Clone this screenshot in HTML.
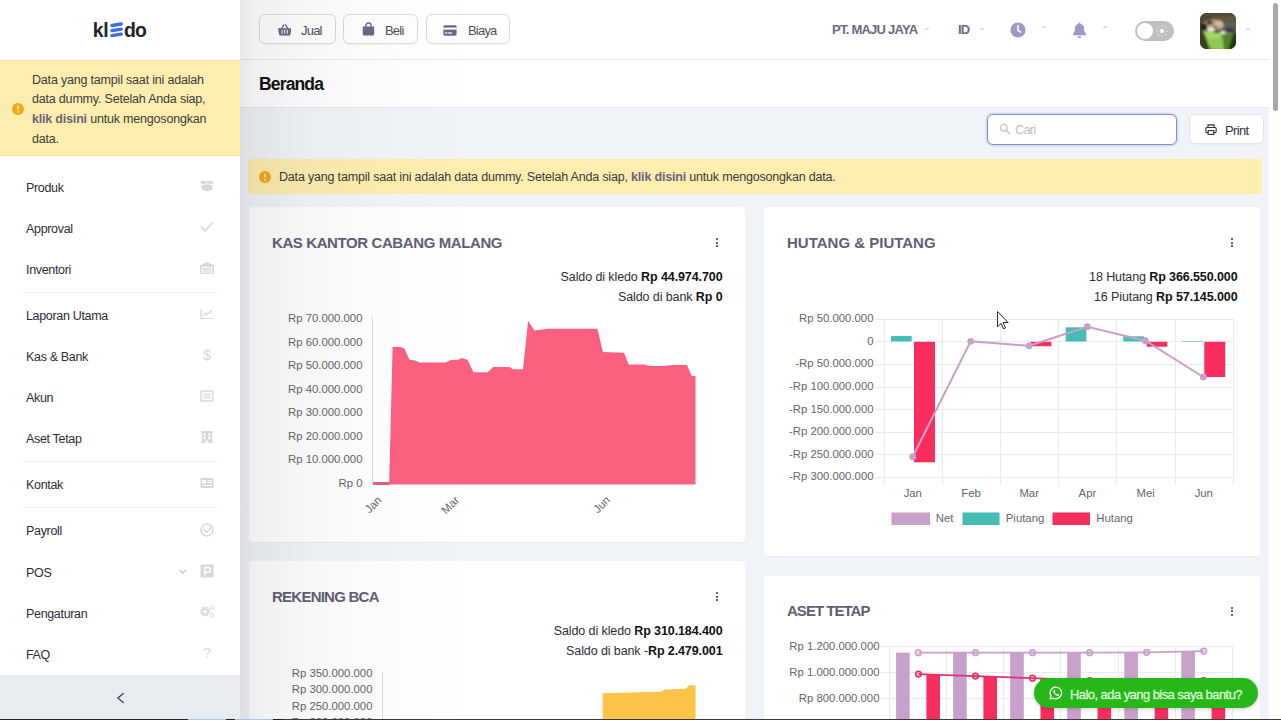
<!DOCTYPE html>
<html lang="id">
<head>
<meta charset="utf-8">
<title>Beranda - Kledo</title>
<style>
*{box-sizing:border-box;margin:0;padding:0}
html,body{width:1281px;height:720px;overflow:hidden;background:#fff}
body{font-family:"Liberation Sans",sans-serif;font-size:13px;color:#2b2b33;position:relative}
.abs{position:absolute}
/* ---------- sidebar ---------- */
#side{position:absolute;left:0;top:0;width:240px;height:720px;background:#fff;z-index:5}
#logo{position:absolute;left:0;top:0;width:240px;height:60px}
#salert{position:absolute;left:0;top:60px;width:240px;height:96px;background:#fdeeb0;border-top:1px solid #f9e7a0;border-bottom:1px solid #f9e7a0}
#salert p{position:absolute;left:32px;top:9.500px;width:200px;letter-spacing:-.19px;font-size:12.5px;line-height:19.7px;color:#3a3a3a}
#salert b{color:#6b6478}
.mi{position:absolute;left:26px;width:200px;height:20px;line-height:20px;letter-spacing:-.33px;font-size:12.5px;color:#2d2d35}
.sep{position:absolute;left:23px;width:195px;height:1px;background:#eef0f3}
.ico{position:absolute;left:199px;width:16px;height:16px}
#collapse{position:absolute;left:0;top:675px;width:240px;height:45px;background:#e8ecf0}
/* ---------- header ---------- */
#head{position:absolute;left:240px;top:0;width:1029px;height:60px;background:#fff;border-bottom:1px solid #ebebeb}
.hbtn{letter-spacing:-.8px;position:absolute;top:14px;height:30px;border:1px solid #d9dbe0;border-radius:6px;background:#fff;font-size:13px;color:#50505b;line-height:28px;box-shadow:0 1px 1px rgba(0,0,0,.04)}
.hbtn span{position:absolute;top:1.500px}
.htxt{letter-spacing:-.75px;white-space:nowrap;position:absolute;font-weight:bold;font-size:13px;color:#6b6a80;top:22px;line-height:16px}
.dash{position:absolute;width:4px;height:1.500px;background:#dddde3;border-radius:1px}
#title{position:absolute;left:240px;top:60px;width:1029px;height:48px;background:#fff;border-bottom:1px solid #e4e8ec;z-index:1}
#title h1{position:absolute;left:19px;top:13px;letter-spacing:-.85px;font-size:17.5px;line-height:22px;font-weight:bold;color:#111}
/* ---------- main ---------- */
#main{position:absolute;left:240px;top:107px;width:1029px;height:613px;background:#f0f4f9}
#search{position:absolute;left:747px;top:7px;width:190px;height:30.500px;border:1px solid #8092d2;border-radius:6px;background:#fff;box-shadow:0 0 0 1.500px rgba(90,110,200,.18)}
#search span{letter-spacing:-.9px;position:absolute;left:27px;top:7px;font-size:13px;line-height:15px;color:#bfbfbf}
#print{position:absolute;left:949px;top:7px;width:75px;height:30px;border:1px solid #e1e4e8;border-radius:6px;background:#fff;box-shadow:0 1px 1px rgba(0,0,0,.03)}
#print span{letter-spacing:-.65px;position:absolute;left:35px;top:7.500px;font-size:13px;line-height:15px;color:#33333b}
#malert{position:absolute;left:8px;top:51.500px;width:1014px;height:35px;background:#fdeeb0;border-radius:2px}
#malert p{position:absolute;left:31px;top:10px;letter-spacing:-.185px;font-size:12.5px;line-height:16px;color:#3a3a3a;white-space:nowrap}
#malert b{color:#6b6478}
.card{position:absolute;background:#fff;border-radius:4px;box-shadow:0 1px 1px rgba(0,0,0,.035)}
.card h2{position:absolute;left:23px;top:26.700px;font-size:15px;line-height:18px;font-weight:bold;color:#5f5f76;white-space:nowrap;letter-spacing:-.39px}
.sal{position:absolute;right:22.500px;letter-spacing:-.1px;font-size:12.5px;line-height:16px;color:#2d2d35;white-space:nowrap;text-align:right}
.sal b{color:#111}
.kebab{position:absolute;width:3px;height:11px}
.kebab i{position:absolute;left:0;width:2px;height:2px;background:#333;border-radius:1px}
svg text{font-family:"Liberation Sans",sans-serif}
#vign{position:absolute;left:240px;top:0;width:300px;height:720px;pointer-events:none;z-index:4;background:linear-gradient(to right,rgba(0,0,0,.085) 0,rgba(0,0,0,.06) 6%,rgba(0,0,0,.03) 22%,rgba(0,0,0,.012) 48%,rgba(0,0,0,0) 80%)}
#scroll{position:absolute;left:1269px;top:0;width:12px;height:720px;background:#fff}
#scroll i{position:absolute;left:4px;top:3px;width:5px;height:108px;border-radius:3px;background:#a9a9a9}
#wa{position:absolute;left:1034px;top:678px;width:224px;height:30px;border-radius:15px;background:#25b818;z-index:6;box-shadow:0 1px 4px rgba(0,0,0,.2)}
#wa span{-webkit-text-stroke:.3px #def7d8;letter-spacing:-.56px;position:absolute;left:36px;top:8.700px;font-size:13px;line-height:16px;color:#def7d8;white-space:nowrap}
#botline{position:absolute;left:0;top:719px;width:1281px;height:1px;background:#222;z-index:9}
</style>
</head>
<body>
<div id="side">
  <div id="logo"><svg width="240" height="60" viewBox="0 0 240 60">
<text x="92.800" y="37" font-size="19.400" font-weight="bold" fill="#23232b" letter-spacing="-.3">kl</text>
<g stroke="#3b71e3" stroke-width="3.300" stroke-linecap="round"><path d="M111.900 25.500 121.300 24"/><path d="M111.900 30.600 121.300 29.100"/><path d="M111.900 35.700 121.300 34.200"/></g>
<text x="123.900" y="37" font-size="19.400" font-weight="bold" fill="#23232b" letter-spacing="-.8">do</text>
</svg></div>
  <div id="salert"><svg class="abs" style="left:11px;top:41px" width="14" height="14" viewBox="0 0 14 14"><circle cx="7" cy="7" r="6" fill="#f0a91b"/><rect x="6.2" y="3.4" width="1.6" height="4.4" rx=".8" fill="#fdeeb0"/><circle cx="7" cy="9.9" r=".95" fill="#fdeeb0"/></svg><p>Data yang tampil saat ini adalah<br>data dummy. Setelah Anda siap,<br><b>klik disini</b> untuk mengosongkan<br>data.</p></div>
  <div id="menu">
<div class="mi" style="top:177.7px">Produk</div><svg class="ico" style="top:177.5px" viewBox="0 0 16 16"><path d="M1.2 4.2 3 2.4 8 3.4 13 2.4 14.8 4.200 13 6.2 8 5.2 3 6.2z" fill="#d8d8d8"/><path d="M2.600 7.200 8 6.200 13.4 7.200V11.600L8 13.200 2.600 11.600z" fill="#d8d8d8"/></svg>
<div class="mi" style="top:218.7px">Approval</div><svg class="ico" style="top:218.5px" viewBox="0 0 16 16"><path d="M2.500 8.200 6.200 11.800 13.600 3.800" fill="none" stroke="#d8d8d8" stroke-width="1.500" stroke-linecap="round" stroke-linejoin="round"/></svg>
<div class="mi" style="top:259.7px">Inventori</div><svg class="ico" style="top:259.5px" viewBox="0 0 16 16"><path d="M1 5.200 8 2 15 5.200V14h-1.600V6.800H2.600V14H1z" fill="#d8d8d8"/><path d="M3.600 8h8.800v1.400H3.600zM3.600 10.200h8.800v1.400H3.600zM3.600 12.400h8.800V14H3.600z" fill="#d8d8d8"/></svg>
<div class="mi" style="top:305.7px">Laporan Utama</div><svg class="ico" style="top:305.5px" viewBox="0 0 16 16"><path d="M2 3v9.500h12" fill="none" stroke="#d8d8d8" stroke-width="1.200"/><path d="M4 9.500 6.500 7 8.500 8.500 12 5" fill="none" stroke="#d8d8d8" stroke-width="1.200"/><path d="M10 4.600h2.600v2.600z" fill="#d8d8d8"/></svg>
<div class="mi" style="top:346.7px">Kas &amp; Bank</div><svg class="ico" style="top:346.5px" viewBox="0 0 16 16"><text x="8" y="13" font-size="14" text-anchor="middle" fill="#d8d8d8">$</text></svg>
<div class="mi" style="top:387.7px">Akun</div><svg class="ico" style="top:387.5px" viewBox="0 0 16 16"><rect x="2" y="3" width="12" height="10" rx="1" fill="none" stroke="#d8d8d8" stroke-width="1.400"/><path d="M4 6h8M4 8h8M4 10h8" stroke="#d8d8d8" stroke-width="1"/></svg>
<div class="mi" style="top:428.7px">Aset Tetap</div><svg class="ico" style="top:428.5px" viewBox="0 0 16 16"><path d="M2 2h12v1.200h-.8V13h.8v1H9.500v-2.500h-3V14H2v-1h.8V3.200H2z" fill="#d8d8d8"/><path d="M4.500 4.500h2.200v2.200H4.500zM9.300 4.500h2.200v2.200H9.300zM4.500 8h2.200v2.200H4.500zM9.300 8h2.200v2.200H9.300z" fill="#fff"/></svg>
<div class="mi" style="top:474.7px">Kontak</div><svg class="ico" style="top:475px" viewBox="0 0 16 16"><rect x="1.500" y="3" width="13" height="10" rx="1.200" fill="#d8d8d8"/><rect x="3.200" y="5" width="4" height="3.400" fill="#fff"/><path d="M8.500 5.600h4.500M8.500 7.600h4.500M3.200 10.400h9.800" stroke="#fff" stroke-width="1"/></svg>
<div class="mi" style="top:520.7px">Payroll</div><svg class="ico" style="top:521.500px" viewBox="0 0 16 16"><circle cx="8" cy="8" r="6" fill="none" stroke="#d8d8d8" stroke-width="1.500"/><path d="M5 7.600 7.600 10.200 12.200 5.400" fill="none" stroke="#d8d8d8" stroke-width="1.500" stroke-linecap="round" stroke-linejoin="round"/></svg>
<div class="mi" style="top:562.7px">POS</div><svg class="ico" style="top:563px" viewBox="0 0 16 16"><rect x="1.500" y="1.500" width="13" height="13" rx="1" fill="#d8d8d8"/><path d="M6 12.500V4.500h3a2.400 2.400 0 0 1 0 4.800H6" fill="none" stroke="#fff" stroke-width="1.500"/></svg>
<div class="mi" style="top:603.7px">Pengaturan</div><svg class="ico" style="top:603px" viewBox="0 0 16 16"><circle cx="6" cy="8.500" r="3.700" fill="none" stroke="#d8d8d8" stroke-width="2.600" stroke-dasharray="1.900 1"/><circle cx="6" cy="8.500" r="2.600" fill="none" stroke="#d8d8d8" stroke-width="1.400"/><circle cx="13" cy="4.800" r="1.700" fill="none" stroke="#d8d8d8" stroke-width="1.500" stroke-dasharray="1.100 .68"/><circle cx="13" cy="12.200" r="1.700" fill="none" stroke="#d8d8d8" stroke-width="1.500" stroke-dasharray="1.100 .68"/></svg>
<div class="mi" style="top:644.7px">FAQ</div><svg class="ico" style="top:644px" viewBox="0 0 16 16"><text x="8" y="13.500" font-size="15" text-anchor="middle" fill="#dcdcdc">?</text></svg>
<div class="sep" style="top:292px"></div>
<div class="sep" style="top:461px"></div>
<div class="sep" style="top:507px"></div>
<svg class="abs" style="left:178px;top:567px" width="10" height="10" viewBox="0 0 10 10"><path d="M1.800 3.200 4.800 6.200 7.800 3.200" fill="none" stroke="#bcbcbc" stroke-width="1.100" stroke-linecap="round" stroke-linejoin="round"/></svg>
</div>
  <div id="collapse"><svg class="abs" style="left:114px;top:16px" width="12" height="14" viewBox="0 0 12 14"><path d="M9.300 2.500 3.800 7 9.300 11.500" fill="none" stroke="#3b3b45" stroke-width="1.200" stroke-linecap="round" stroke-linejoin="round"/></svg></div>
</div>
<div id="head">
<div class="hbtn" style="left:19px;width:77px"><svg class="abs" style="left:17.500px;top:9px" width="13.500" height="11.700" viewBox="0 0 15 13"><path d="M.6 4.600h13.800a.6 .6 0 0 1 .6 .7l-1.300 6.600a1 1 0 0 1 -1 .8H2.300a1 1 0 0 1 -1 -.8L0 5.300a.6 .6 0 0 1 .6 -.7z" fill="#6b6785"/><path d="M4.200 5 6.400 1M10.800 5 8.600 1" stroke="#6b6785" stroke-width="1.500" stroke-linecap="round"/><path d="M4.600 6.800v3.600M7.500 6.800v3.600M10.400 6.800v3.600" stroke="#fff" stroke-width="1.100" stroke-linecap="round"/></svg><span style="left:41px">Jual</span></div>
<div class="hbtn" style="left:103px;width:75px"><svg class="abs" style="left:18px;top:7px" width="13" height="14" viewBox="0 0 13 14"><path d="M.8 4.400h11.400v7.600a1.600 1.600 0 0 1 -1.600 1.600H2.400A1.600 1.600 0 0 1 .8 12z" fill="#6b6785"/><path d="M3.900 5.800V3.600a2.600 2.600 0 0 1 5.200 0v2.200" fill="none" stroke="#6b6785" stroke-width="1.400"/></svg><span style="left:41px">Beli</span></div>
<div class="hbtn" style="left:186px;width:84px"><svg class="abs" style="left:16px;top:9.500px" width="14" height="11" viewBox="0 0 15 12"><rect x=".3" y=".3" width="14.400" height="11.400" rx="1.500" fill="#6b6785"/><rect x="0" y="2.800" width="15" height="2.200" fill="#fff"/><rect x="2" y="8" width="2.600" height="1.400" fill="#fff"/><rect x="5.600" y="8" width="4" height="1.400" fill="#fff"/></svg><span style="left:41px">Biaya</span></div>
<div class="htxt" style="left:592px">PT. MAJU JAYA</div><i class="dash" style="left:685px;top:28px"></i>
<div class="htxt" style="left:718px">ID</div><i class="dash" style="left:740px;top:28px"></i>
<svg class="abs" style="left:770px;top:22px" width="16" height="16" viewBox="0 0 16 16"><circle cx="8" cy="8" r="7.600" fill="#9d98c4"/><path d="M8 3.800V8.300l2.600 1.900" fill="none" stroke="#fff" stroke-width="1.600" stroke-linecap="round" stroke-linejoin="round"/></svg><i class="dash" style="left:802px;top:26px"></i>
<svg class="abs" style="left:832px;top:22px" width="15" height="17" viewBox="0 0 15 17"><path d="M7.500 .6a1 1 0 0 1 1 1v.5a4.600 4.600 0 0 1 3.600 4.500c0 2.900 .9 4.200 1.800 5.100a.9 .9 0 0 1 -.6 1.500H1.700a.9 .9 0 0 1 -.6 -1.500c.9 -.9 1.800 -2.200 1.800 -5.100A4.600 4.600 0 0 1 6.500 2.100V1.600a1 1 0 0 1 1 -1z" fill="#9d98c4"/><path d="M5.600 14.200h3.800a1.900 1.900 0 0 1 -3.800 0z" fill="#9d98c4"/></svg><i class="dash" style="left:863px;top:26px"></i>
<div class="abs" style="left:895px;top:21px;width:39px;height:20px;border-radius:10px;background:#bfbfbf"><i class="abs" style="left:2px;top:2px;width:16px;height:16px;border-radius:8px;background:#fff"></i><svg class="abs" style="left:20px;top:3px" width="14" height="14" viewBox="0 0 14 14"><circle cx="7" cy="7" r="2.300" fill="#f4f4f4"/><g stroke="#e2e2e2" stroke-width="1.300" stroke-linecap="round"><path d="M7 1.600v.6M7 11.800v.6M1.600 7h.6M11.800 7h.6M3.200 3.200l.4 .4M10.400 10.400l.4 .4M3.200 10.800l.4 -.4M10.400 3.600l.4 -.4"/></g></svg></div>
<svg class="abs" style="left:960px;top:13px" width="36" height="36" viewBox="0 0 36 36"><defs><clipPath id="av"><rect width="36" height="36" rx="6.500"/></clipPath><filter id="bl" x="-20%" y="-20%" width="140%" height="140%"><feGaussianBlur stdDeviation=".9"/></filter></defs><g clip-path="url(#av)"><rect width="36" height="36" fill="#514a34"/><g filter="url(#bl)"><rect x="-2" y="-2" width="40" height="9" fill="#4d4a33"/><rect x="12" y="3" width="24" height="6" fill="#5e563c"/><rect x="20" y="9" width="18" height="12" fill="#5c5d5e"/><ellipse cx="13.500" cy="12" rx="10.500" ry="5.600" fill="#b59a80"/><ellipse cx="19" cy="11" rx="4" ry="3" fill="#d3bba4"/><ellipse cx="15" cy="14.500" rx="2.500" ry="1.800" fill="#8a6a52"/><ellipse cx="9.500" cy="9.500" rx="3.200" ry="2" fill="#4d352b"/><ellipse cx="4" cy="14" rx="3.200" ry="3.500" fill="#1d1a17"/><ellipse cx="11" cy="16.500" rx="3.600" ry="2.200" fill="#eee7de"/><ellipse cx="30" cy="17" rx="5" ry="2.600" fill="#3c3d40"/><rect x="-2" y="18" width="10" height="20" fill="#39411f"/><rect x="27" y="20" width="11" height="18" fill="#22380f"/><path d="M3 17.500 33 20.500 27.500 37H10.500z" fill="#90c756"/><path d="M22 21 33 20.500 27.500 37H24z" fill="#4f8527"/><path d="M5 18.500 20 20 19 26 8 25z" fill="#a9d667"/><ellipse cx="23" cy="19.500" rx="2.600" ry="1.600" fill="#f1efe9"/><ellipse cx="16.500" cy="19" rx="2.400" ry="1.300" fill="#3b4a22"/></g></g></svg><i class="dash" style="left:1006px;top:28px"></i>
</div>
<div id="title"><h1>Beranda</h1></div>
<div id="main">
  <div id="search"><svg class="abs" style="left:11px;top:8px" width="12" height="12" viewBox="0 0 12 12"><circle cx="4.700" cy="4.700" r="3.300" fill="none" stroke="#c4c4c4" stroke-width="1.300"/><path d="M7.300 7.300 10.500 10.500" stroke="#c4c4c4" stroke-width="1.500" stroke-linecap="round"/></svg><span>Cari</span></div>
  <div id="print"><svg class="abs" style="left:15px;top:9px" width="12" height="11.200" viewBox="0 0 14 13"><path d="M3.500 4V1h7v3" fill="none" stroke="#33333b" stroke-width="1.300"/><rect x="1" y="4" width="12" height="6" rx="1.300" fill="none" stroke="#33333b" stroke-width="1.300"/><rect x="3.700" y="7.600" width="6.600" height="4.600" fill="#fff" stroke="#33333b" stroke-width="1.300"/></svg><span>Print</span></div>
  <div id="malert"><svg class="abs" style="left:10px;top:11px" width="14" height="14" viewBox="0 0 14 14"><circle cx="7" cy="7" r="6" fill="#f0a91b"/><rect x="6.200" y="3.400" width="1.600" height="4.400" rx=".8" fill="#fdeeb0"/><circle cx="7" cy="9.900" r=".95" fill="#fdeeb0"/></svg><p>Data yang tampil saat ini adalah data dummy. Setelah Anda siap, <b>klik disini</b> untuk mengosongkan data.</p></div>
  <div class="card" id="c1" style="left:9px;top:100px;width:496px;height:335px"><h2 style="letter-spacing:-.4px">KAS KANTOR CABANG MALANG</h2><div class="kebab" style="left:467px;top:31px"><i style="top:0"></i><i style="top:3.700px"></i><i style="top:7.400px"></i></div>
<div class="sal" style="top:61.800px">Saldo di kledo <b>Rp 44.974.700</b></div>
<div class="sal" style="top:82.300px">Saldo di bank <b>Rp 0</b></div>
<svg class="abs" style="left:0;top:0" width="496" height="335" viewBox="249 207 496 335" font-size="11.350" fill="#666">
<path d="M372.500 318V484" stroke="#dcdcdc" stroke-width="1" fill="none"/>
<path d="M373.0 483.0 L389.2 483.0 L392.6 347.0 L400.6 347.0 L404.4 348.6 L409.5 359.7 L415.0 360.4 L419.7 362.6 L445.3 362.6 L451.0 360.0 L458.0 359.7 L462.0 358.1 L467.7 360.0 L473.4 372.2 L487.5 372.2 L493.2 367.1 L509.6 367.1 L512.8 369.3 L523.0 369.3 L528.1 320.8 L534.5 330.4 L548.0 328.8 L597.4 328.8 L602.9 352.1 L624.0 352.7 L628.8 364.5 L644.4 364.5 L649.5 366.1 L663.0 366.1 L672.5 364.9 L687.0 364.9 L691.7 376.0 L695.5 376.0 L695.5 484.5 L373 484.5 Z" fill="#fb6080"/>
<path d="M373 483.500H389.500" stroke="#e0607f" stroke-width="3" fill="none"/>
<text x="362.500" y="322.3" text-anchor="end">Rp 70.000.000</text><text x="362.500" y="345.8" text-anchor="end">Rp 60.000.000</text><text x="362.500" y="369.3" text-anchor="end">Rp 50.000.000</text><text x="362.500" y="392.8" text-anchor="end">Rp 40.000.000</text><text x="362.500" y="416.3" text-anchor="end">Rp 30.000.000</text><text x="362.500" y="439.8" text-anchor="end">Rp 20.000.000</text><text x="362.500" y="463.3" text-anchor="end">Rp 10.000.000</text><text x="362.500" y="486.8" text-anchor="end">Rp 0</text>
<text transform="translate(379.5 498) rotate(-45)" text-anchor="end" y="4">Jan</text><text transform="translate(457.0 498) rotate(-45)" text-anchor="end" y="4">Mar</text><text transform="translate(608.0 498) rotate(-45)" text-anchor="end" y="4">Jun</text>
</svg></div>
  <div class="card" id="c2" style="left:524px;top:100px;width:496px;height:349px"><h2 style="letter-spacing:0">HUTANG &amp; PIUTANG</h2><div class="kebab" style="left:467px;top:31px"><i style="top:0"></i><i style="top:3.700px"></i><i style="top:7.400px"></i></div>
<div class="sal" style="top:61.800px">18 Hutang <b>Rp 366.550.000</b></div>
<div class="sal" style="top:82.300px">16 Piutang <b>Rp 57.145.000</b></div>
<svg class="abs" style="left:0;top:0" width="496" height="349" viewBox="764 207 496 349" font-size="11.350" fill="#666">
<path d="M875.500 319.5H1233 M875.500 341.5H1233 M875.500 364.5H1233 M875.500 387.5H1233 M875.500 409.5H1233 M875.500 432.5H1233 M875.500 454.5H1233 M875.500 477.5H1233 M884.5 319V485 M942.5 319V485 M1000.5 319V485 M1058.5 319V485 M1116.5 319V485 M1175.5 319V485 M1233.5 319V485 " stroke="#ebebeb" stroke-width="1" fill="none"/>
<rect x="891.0" y="336.0" width="20.7" height="5.5" fill="#45bcb6"/><rect x="914.0" y="341.8" width="21.0" height="120.5" fill="#fa2d5f"/><rect x="1030.5" y="341.8" width="20.9" height="4.4" fill="#fa2d5f"/><rect x="1065.7" y="327.3" width="20.6" height="14.2" fill="#45bcb6"/><rect x="1123.3" y="336.3" width="20.7" height="5.2" fill="#45bcb6"/><rect x="1146.7" y="341.8" width="20.6" height="4.9" fill="#fa2d5f"/><rect x="1182.0" y="340.9" width="20.6" height="0.6" fill="#45bcb6"/><rect x="1204.3" y="341.8" width="21.0" height="35.2" fill="#fa2d5f"/>
<path d="M912.7 456.7 L970.7 341.3 L1029.2 345.8 L1087.3 326.7 L1145.3 340.7 L1203.3 377" stroke="#c9a0c9" stroke-width="2" fill="none" stroke-linejoin="round"/>
<circle cx="912.7" cy="456.7" r="3.400" fill="#c9a0c9"/><circle cx="970.7" cy="341.3" r="3.400" fill="#c9a0c9"/><circle cx="1029.2" cy="345.8" r="3.400" fill="#c9a0c9"/><circle cx="1087.3" cy="326.7" r="3.400" fill="#c9a0c9"/><circle cx="1145.3" cy="340.7" r="3.400" fill="#c9a0c9"/><circle cx="1203.3" cy="377" r="3.400" fill="#c9a0c9"/>
<text x="873.500" y="322.2" text-anchor="end">Rp 50.000.000</text><text x="873.500" y="344.8" text-anchor="end">0</text><text x="873.500" y="367.4" text-anchor="end">-Rp 50.000.000</text><text x="873.500" y="390.0" text-anchor="end">-Rp 100.000.000</text><text x="873.500" y="412.6" text-anchor="end">-Rp 150.000.000</text><text x="873.500" y="435.2" text-anchor="end">-Rp 200.000.000</text><text x="873.500" y="457.8" text-anchor="end">-Rp 250.000.000</text><text x="873.500" y="480.4" text-anchor="end">-Rp 300.000.000</text>
<text x="912.8" y="497" text-anchor="middle">Jan</text><text x="971.0" y="497" text-anchor="middle">Feb</text><text x="1029.2" y="497" text-anchor="middle">Mar</text><text x="1087.4" y="497" text-anchor="middle">Apr</text><text x="1145.6" y="497" text-anchor="middle">Mei</text><text x="1203.8" y="497" text-anchor="middle">Jun</text>
<rect x="891.500" y="512.500" width="38.500" height="12.500" fill="#c9a0c9"/><text x="935.800" y="522.200">Net</text><rect x="962.500" y="512.500" width="37" height="12.500" fill="#45bcb6"/><text x="1005.800" y="522.200">Piutang</text><rect x="1052.500" y="512.500" width="37.500" height="12.500" fill="#fa2d5f"/><text x="1096.300" y="522.200">Hutang</text>
<path d="M997.500 311.500v15.300l3.600 -3.500 2.400 5.600 2 -.9 -2.400 -5.500h5z" fill="#fff" stroke="#111" stroke-width=".9" stroke-linejoin="round"/>
</svg></div>
  <div class="card" id="c3" style="left:9px;top:454px;width:496px;height:200px"><h2 style="letter-spacing:-.76px">REKENING BCA</h2><div class="kebab" style="left:467px;top:31px"><i style="top:0"></i><i style="top:3.700px"></i><i style="top:7.400px"></i></div>
<div class="sal" style="top:61.800px">Saldo di kledo <b>Rp 310.184.400</b></div>
<div class="sal" style="top:82.300px">Saldo di bank -<b>Rp 2.479.001</b></div>
<svg class="abs" style="left:0;top:0" width="496" height="200" viewBox="249 561 496 200" font-size="11.350" fill="#666">
<path d="M382.500 672V761" stroke="#dcdcdc" stroke-width="1" fill="none"/>
<path d="M602.600 761V693.200L640 692.300 661 691.800 664.500 689.400 686 688.800 688.600 685.500 695.500 685.300V761z" fill="#fcc549"/>
<text x="372.500" y="677.0" text-anchor="end">Rp 350.000.000</text><text x="372.500" y="693.2" text-anchor="end">Rp 300.000.000</text><text x="372.500" y="709.5" text-anchor="end">Rp 250.000.000</text><text x="372.500" y="725.8" text-anchor="end">Rp 200.000.000</text>
</svg></div>
  <div class="card" id="c4" style="left:524px;top:468.500px;width:496px;height:200px"><h2 style="letter-spacing:-.98px">ASET TETAP</h2><div class="kebab" style="left:467px;top:31px"><i style="top:0"></i><i style="top:3.700px"></i><i style="top:7.400px"></i></div>
<svg class="abs" style="left:0;top:-1px" width="496" height="200" viewBox="764 575 496 200" font-size="11.350" fill="#666">
<path d="M881 646.5H1232.500 M881 672.5H1232.500 M881 698.5H1232.500 M889.5 646V775 M946.5 646V775 M1003.5 646V775 M1060.5 646V775 M1118.5 646V775 M1175.5 646V775 M1232.5 646V775 " stroke="#ebebeb" stroke-width="1" fill="none"/>
<rect x="896.1" y="652.7" width="13.600" height="130" fill="#c9a0c9"/><rect x="926.4" y="674.4" width="13.600" height="130" fill="#fa2d5f"/><rect x="953.1" y="652.7" width="13.600" height="130" fill="#c9a0c9"/><rect x="983.4" y="676.4" width="13.600" height="130" fill="#fa2d5f"/><rect x="1010.2" y="652.7" width="13.600" height="130" fill="#c9a0c9"/><rect x="1040.5" y="678.5" width="13.600" height="130" fill="#fa2d5f"/><rect x="1067.2" y="652.7" width="13.600" height="130" fill="#c9a0c9"/><rect x="1097.5" y="680.9" width="13.600" height="130" fill="#fa2d5f"/><rect x="1124.3" y="652.3" width="13.600" height="130" fill="#c9a0c9"/><rect x="1154.6" y="682.2" width="13.600" height="130" fill="#fa2d5f"/><rect x="1181.3" y="651.1" width="13.600" height="130" fill="#c9a0c9"/><rect x="1211.6" y="680.9" width="13.600" height="130" fill="#fa2d5f"/>
<path d="M918.4 652.7 L975.5 652.7 L1032.5 652.7 L1089.6 652.7 L1146.6 652.3 L1203.7 651.1" stroke="#c9a0c9" stroke-width="1.800" fill="none"/><circle cx="918.4" cy="652.7" r="2.900" fill="#c9a0c9" fill-opacity=".35" stroke="#c9a0c9" stroke-width="1.500"/><circle cx="975.5" cy="652.7" r="2.900" fill="#c9a0c9" fill-opacity=".35" stroke="#c9a0c9" stroke-width="1.500"/><circle cx="1032.5" cy="652.7" r="2.900" fill="#c9a0c9" fill-opacity=".35" stroke="#c9a0c9" stroke-width="1.500"/><circle cx="1089.6" cy="652.7" r="2.900" fill="#c9a0c9" fill-opacity=".35" stroke="#c9a0c9" stroke-width="1.500"/><circle cx="1146.6" cy="652.3" r="2.900" fill="#c9a0c9" fill-opacity=".35" stroke="#c9a0c9" stroke-width="1.500"/><circle cx="1203.7" cy="651.1" r="2.900" fill="#c9a0c9" fill-opacity=".35" stroke="#c9a0c9" stroke-width="1.500"/>
<path d="M918.4 674.1 L975.5 676.1 L1032.5 678.2 L1089.6 680.6 L1146.6 681.9 L1203.7 680.6" stroke="#e3336f" stroke-width="1.800" fill="none"/><circle cx="918.4" cy="674.1" r="2.900" fill="#e3336f" fill-opacity=".35" stroke="#e3336f" stroke-width="1.500"/><circle cx="975.5" cy="676.1" r="2.900" fill="#e3336f" fill-opacity=".35" stroke="#e3336f" stroke-width="1.500"/><circle cx="1032.5" cy="678.2" r="2.900" fill="#e3336f" fill-opacity=".35" stroke="#e3336f" stroke-width="1.500"/><circle cx="1089.6" cy="680.6" r="2.900" fill="#e3336f" fill-opacity=".35" stroke="#e3336f" stroke-width="1.500"/><circle cx="1146.6" cy="681.9" r="2.900" fill="#e3336f" fill-opacity=".35" stroke="#e3336f" stroke-width="1.500"/><circle cx="1203.7" cy="680.6" r="2.900" fill="#e3336f" fill-opacity=".35" stroke="#e3336f" stroke-width="1.500"/>
<text x="879.500" y="649.7" text-anchor="end">Rp 1.200.000.000</text><text x="879.500" y="676.0" text-anchor="end">Rp 1.000.000.000</text><text x="879.500" y="702.4" text-anchor="end">Rp 800.000.000</text>
</svg></div>
</div>
<div id="vign"></div>
<div id="scroll"><i></i></div>
<div id="wa"><svg class="abs" style="left:15px;top:8px" width="14" height="14" viewBox="0 0 14 14"><path d="M7 1.100a5.800 5.800 0 0 0 -5 8.800L1.100 12.900l3.100 -.8A5.800 5.800 0 1 0 7 1.100z" fill="none" stroke="#fff" stroke-width="1.300" stroke-linejoin="round"/><path d="M4.900 4.300c.3 -.3 .7 -.3 .9 .1l.5 1c.1 .3 0 .5 -.2 .7l-.3 .3c.5 .9 1.100 1.500 2 2l.4 -.4c.2 -.2 .4 -.2 .7 -.1l1 .5c.3 .2 .4 .6 .1 .9 -.5 .6 -1.200 .8 -2 .5C6.400 9.200 5 7.800 4.400 6.300c-.3 -.8 -.1 -1.500 .5 -2z" fill="#fff"/></svg><span>Halo, ada yang bisa saya bantu?</span></div>
<div id="botline"><i class="abs" style="left:188px;top:0;width:38px;height:1px;background:#a7c6ea"></i><i class="abs" style="left:235px;top:0;width:38px;height:1px;background:#a7c6ea"></i><i class="abs" style="left:283px;top:0;width:998px;height:1px;background:#3a3a3a"></i></div>
</body>
</html>
